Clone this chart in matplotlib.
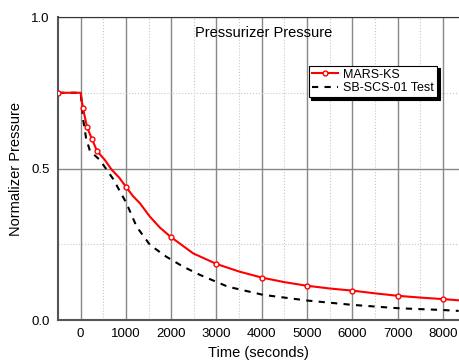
import matplotlib
matplotlib.use("Agg")
import matplotlib.pyplot as plt
from matplotlib.ticker import MultipleLocator

plt.rcParams["font.family"] = ["Liberation Sans", "DejaVu Sans"]

# MARS-KS calculation (normalized pressure vs time)
mars_t = [-500, 0, 50, 140, 250, 360, 536, 680, 850, 1000, 1150, 1310, 1530,
          1750, 2000, 2485, 3000, 3500, 4000, 4500, 5000, 5500, 6000, 6500,
          7000, 7500, 8000, 8350]
mars_p = [0.75, 0.75, 0.70, 0.637, 0.597, 0.558, 0.528, 0.497, 0.47, 0.44,
          0.41, 0.385, 0.341, 0.305, 0.273, 0.22, 0.185, 0.16, 0.14, 0.125,
          0.113, 0.104, 0.097, 0.088, 0.080, 0.074, 0.069, 0.065]
mars_markers = [0, 2, 3, 4, 5, 9, 14, 16, 18, 20, 22, 24, 26]

# SB-SCS-01 test data
test_t = [-500, 0, 25, 57, 120, 205, 425, 720, 1013, 1236, 1530, 1890, 2265,
          2633, 3250, 4030, 5020, 6000, 7000, 8000, 8350]
test_p = [0.75, 0.75, 0.71, 0.66, 0.60, 0.558, 0.528, 0.465, 0.385, 0.308,
          0.248, 0.209, 0.176, 0.149, 0.11, 0.083, 0.064, 0.050, 0.039, 0.033,
          0.030]

fig = plt.figure(figsize=(4.59, 3.62), dpi=100)
ax = fig.add_axes([0.1264, 0.116, 0.873, 0.837])

ax.plot(mars_t, mars_p, color="red", lw=1.5, marker="o", ms=3.5,
        mfc="white", mec="red", mew=1, markevery=mars_markers,
        label="MARS-KS", zorder=3)
ax.plot(test_t, test_p, color="black", lw=1.5, ls=(0, (3, 3)),
        label="SB-SCS-01 Test", zorder=2)

ax.set_xlim(-500, 8350)
ax.set_ylim(0, 1.0)
ax.xaxis.set_major_locator(MultipleLocator(1000))
ax.xaxis.set_minor_locator(MultipleLocator(500))
ax.yaxis.set_major_locator(MultipleLocator(0.5))
ax.yaxis.set_minor_locator(MultipleLocator(0.25))
ax.yaxis.set_major_formatter(plt.FuncFormatter(lambda v, p: f"{v:.1f}"))
ax.xaxis.set_major_formatter(plt.FuncFormatter(lambda v, p: f"{int(v)}" if v >= 0 else ""))

ax.grid(which="major", color="#888888", lw=1.0, ls="-")
ax.grid(which="minor", color="#c8c8c8", lw=0.8, ls=":")
ax.set_axisbelow(True)
ax.tick_params(which="both", length=0, labelsize=9.5, pad=6)

for side in ["left", "bottom"]:
    ax.spines[side].set_color("#555555")
    ax.spines[side].set_linewidth(1.5)
ax.spines["top"].set_color("#333333")
ax.spines["top"].set_linewidth(0.8)
ax.spines["right"].set_visible(False)

ax.text(0.514, 0.947, "Pressurizer Pressure", transform=ax.transAxes,
        ha="center", va="center", fontsize=10.5)

ax.set_xlabel("Time (seconds)", fontsize=10.5, labelpad=4)
ax.set_ylabel("Normalizer Pressure", fontsize=10.5, labelpad=6)

leg = ax.legend(loc="upper left", bbox_to_anchor=(0.61, 0.86), fontsize=9,
                frameon=True, fancybox=False, edgecolor="black",
                framealpha=1, borderpad=0.25, labelspacing=0.1,
                handlelength=2.1, handletextpad=0.4,
                shadow={"color": "black", "alpha": 1})
leg.get_frame().set_linewidth(0.8)

fig.savefig("out.png", dpi=100)
